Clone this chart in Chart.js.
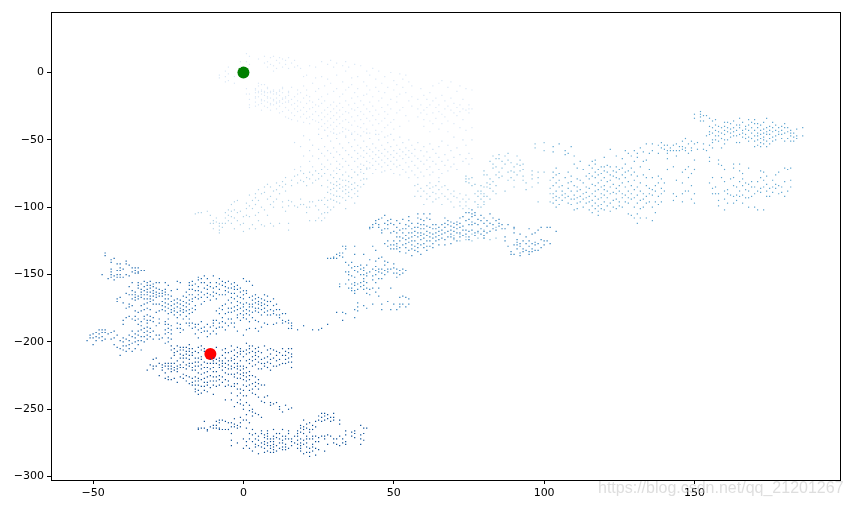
<!DOCTYPE html>
<html>
<head>
<meta charset="utf-8">
<style>
  body { margin: 0; background: #fff; }
  #wrap { position: relative; width: 852px; height: 507px; overflow: hidden; }
  #mark { position: absolute; left: 598px; top: 479px; font: 16px "Liberation Sans", sans-serif; color: rgba(195, 195, 195, 0.55); white-space: nowrap; }
</style>
<script src="https://cdn.jsdelivr.net/npm/chart.js@4/dist/chart.umd.min.js"></script>
</head>
<body>
<div id="wrap">
  <canvas id="walk" width="852" height="507"></canvas>
  <div id="mark">https://blog.csdn.net/qq_21201267</div>
</div>
<script>
// every row is one column of the walk: [x, y, y, y...], palest stage first
const stage1 = [
  [-8,-2,-4],[-6,1,-3,-7],[-5,4,-1,-6],[-3,-3,-8],[-1,8,4],[1,14,8,-12,-16],[2,12,6,-16,-20,-24,-26],
  [4,-12,-13,-15,-18,-19,-22,-25],[5,10,-8,-10,-14,-15,-18,-24],[6,-9,-13,-14,-16,-20,-21,-23,-28],[7,12,7,-9,-14,-15,-17,-21,-25],
  [8,8,4,-11,-12,-15,-18,-19,-22,-26],[9,11,6,-14,-15,-19,-23,-24,-28],[10,12,5,1,-13,-14,-16,-20,-21,-24],[11,9,3,-15,-16,-19,-22,-23,-27],
  [12,11,7,-13,-14,-17,-21,-22,-25,-30],[13,10,4,-11,-12,-15,-19,-20,-23,-29],[14,9,6,-18,-19,-22,-26,-33],[15,11,3,-14,-15,-17,-21,-22,-28,-34],
  [16,7,-11,-20,-24,-30,-35],[17,9,4,-18,-23,-27,-32],[18,5,-13,-16,-21,-25,-29,-36],[19,3,-15,-22,-28,-33],
  [20,-3,-10,-19,-26,-31,-37],[21,-2,-13,-17,-23,-29,-34],[22,5,-18,-21,-27,-33,-38],[23,-8,-22,-26,-31,-35],
  [24,4,-4,-14,-24,-29,-36],[25,-12,-20,-25,-32,-37,-42],[26,8,-3,-18,-23,-30,-35,-40],[27,-10,-21,-28,-33,-38,-43],
  [28,6,-5,-16,-26,-31,-36,-41],[29,9,-8,-24,-29,-34,-39,-44],[30,4,-14,-22,-27,-32,-37,-42],
  [31,7,-2,-12,-25,-30,-35,-40,-46],[32,-18,-23,-28,-33,-38,-45],[33,5,-7,-16,-26,-31,-36,-41],
  [34,8,1,-13,-21,-29,-35,-42,-47],[35,4,-11,-24,-30,-37,-43],[36,-4,-9,-19,-27,-33,-39,-45],[37,6,-15,-23,-28,-36,-44],
  [38,-3,-12,-18,-26,-32,-40,-46],[39,5,-21,-29,-35,-41],[40,-7,-17,-24,-31,-38,-44],[41,1,-10,-16,-27,-34,-42],
  [42,-2,-13,-22,-29,-36,-45],[43,3,-18,-25,-32,-39],[44,-5,-11,-28,-35,-43],[45,1,-14,-21,-31,-38,-46],
  [46,-8,-19,-26,-36,-44],[47,-3,-15,-29,-34,-41],[48,-11,-24,-31,-39,-47],[49,0,-20,-27,-37],[50,-6,-13,-35,-42],
  [51,-9,-18,-22,-30],[52,-1,-16,-28,-40],[53,-5,-11,-26],[54,-2,-15,-32],[55,-7,-21,-36],[56,-10,-18,-25],
  [58,-20,-27,-33],[59,-12,-24,-30],[60,-17,-28,-35,-40],[61,-20,-26,-31],[62,-15,-24,-36,-44],[63,-10,-21,-30,-38],
  [64,-19,-26,-34],[65,-8,-24,-29,-42],[66,-6,-17,-31,-38],[67,-21,-27,-33],[68,-11,-25,-36,-44],[69,-7,-19,-28],
  [70,-23,-30,-38],[71,-14,-26,-32],[72,-10,-24,-29,-41],[73,-20,-27,-35],[74,-12,-28,-43],[75,-24,-27,-30],[76,-13,-27,-41]
];
const stage2 = [
  [17,-52,-72],[19,-55,-70],[20,-47,-62],[22,-50,-58,-66],[23,-54,-62,-70],[25,-46,-57,-64],[26,-49,-60,-68],
  [27,-43,-55,-62,-70],[28,-47,-58,-65,-72],[29,-51,-60,-68],[30,-45,-56,-63,-73],[31,-49,-59,-66,-71],[32,-53,-61,-68],
  [33,-44,-56,-64,-70],[34,-48,-58,-66,-74],[35,-52,-61,-69],[36,-46,-55,-63,-72],[37,-50,-58,-66],[38,-54,-60,-64,-70],
  [39,-47,-56,-62,-68,-74],[40,-51,-58,-63,-69],[41,-45,-55,-60,-66,-72],[42,-49,-57,-62,-67,-71],[43,-53,-59,-64,-69,-75],
  [44,-46,-56,-61,-66,-72],[45,-50,-58,-63,-68],[46,-54,-60,-65,-70,-74],[47,-48,-57,-62,-67,-73],[48,-52,-59,-64,-69],
  [49,-46,-55,-61,-66,-72],[50,-50,-58,-63,-68,-75],[51,-54,-60,-65,-70],[52,-48,-57,-62,-69,-76],[53,-52,-59,-64,-72],
  [54,-56,-61,-67,-74],[55,-50,-58,-63,-70,-78],[56,-54,-60,-66,-73],[57,-57,-62,-69,-76],[58,-52,-64,-71,-78],
  [59,-58,-66,-74],[60,-55,-62,-68,-77],[61,-59,-65,-72],[62,-53,-63,-70,-76],[63,-57,-66,-74],[64,-60,-68],
  [65,-55,-63,-72,-78],[66,-51,-66,-75],[67,-61,-69],[68,-54,-65,-73],[69,-58,-70],[70,-48,-63,-68],[71,-56,-72],
  [72,-61],[73,-50,-66],[74,-54,-64],[75,-60,-68],[76,-50,-64]
];
const stage3 = [
  [-16,-105],[-15,-104],[-14,-104],[-12,-103],[-11,-106,-112],[-10,-110,-112,-116],[-9,-108,-111],[-8,-112,-114,-117,-119],
  [-7,-112,-115],[-6,-104,-108,-112],[-5,-102,-106,-110],[-4,-98,-103,-107,-112],[-3,-96,-102,-108,-116],[-2,-95,-104,-110],
  [-1,-103,-113],[0,-107,-112,-118],[1,-97,-101,-106],[2,-91,-99,-107,-116],[3,-95,-101,-113],[4,-90,-93,-98,-106,-116],
  [5,-87,-95,-104,-110],[6,-90,-100,-113],[7,-85,-89,-102,-114],[8,-83,-94,-106],[9,-85,-92,-98,-112],[10,-88,-96,-100,-114],
  [11,-82,-87,-94],[12,-84,-90,-112],[13,-81,-85,-96,-100],[14,-78,-83,-88,-103],[15,-95,-99,-112,-117],[16,-80,-84,-96],
  [17,-77,-99],[18,-76,-82,-100],[19,-73,-80,-94,-98],[20,-75,-81,-98],[21,-78,-84,-100,-104],[22,-74,-79,-96,-100,-110],
  [23,-76,-82,-96],[24,-73,-80,-99,-110],[25,-75,-79,-95,-102,-108],[26,-72,-77,-84,-95,-105,-110],[27,-75,-93,-98,-104,-108],
  [28,-80,-85,-89,-95,-100,-104],[29,-76,-82,-87,-90,-94,-102],[30,-78,-83,-86,-91,-95,-100],[31,-75,-81,-84,-88,-92,-96],
  [32,-72,-79,-83,-86,-92,-97],[33,-76,-80,-85,-88,-93],[34,-80,-84,-87,-90,-95,-101],[35,-77,-81,-85,-89,-92],
  [36,-78,-83,-87,-93],[37,-74,-82,-86,-90,-97],[38,-76,-84,-88,-92],[39,-72,-80,-85],[40,-75,-79,-83],[41,-71,-79],
  [57,-84,-92],[58,-83,-88],[59,-86,-92],[60,-88,-98],[61,-84,-90,-94],[62,-82,-86,-92],[63,-85,-89,-96],[64,-84,-90,-94],
  [65,-81,-87,-93],[66,-85,-90,-98],[67,-84,-92],[68,-87,-94],[69,-90,-96],[70,-88,-92,-100],[71,-93],[72,-90,-96,-99],
  [73,-94,-101],[74,-91,-96,-99],[75,-94,-101]
];
const stage4 = [
  [70,-121,-124],[72,-120,-125],[74,-77,-79,-81,-122,-124],[75,-79,-82],[76,-78,-84,-120,-125],[77,-83,-90,-96],
  [78,-88,-92,-98,-100,-119,-123],[79,-84,-88,-90,-94,-100],[80,-73,-76,-85,-90,-92,-96,-98,-117,-123],[81,-76,-82,-85,-92],
  [82,-66,-79,-83,-86,-94,-112,-118,-124],[83,-62,-68,-71,-81,-88],[84,-64,-70,-76,-84,-90,-115,-123],[85,-61,-64,-74,-78],
  [86,-66,-71,-77],[87,-62,-68,-88],[88,-60,-65,-74,-80],[89,-67,-73,-78],[90,-70,-74,-80,-85],[91,-62,-68,-76],
  [92,-65,-69,-73],[93,-68,-80,-72,-77],[94,-82,-87],[96,-73,-76,-79,-85],[97,-53,-56],[98,-74,-78,-82,-96],
  [100,-52,-58,-74],[102,-80,-86,-90,-96]
];
const stage5 = [
  [103,-55,-59,-74,-78,-84,-90,-93,-97],[104,-71,-76,-82,-88,-92,-95,-100],[105,-53,-75,-80,-85,-93,-98],
  [106,-84,-88,-91,-95],[107,-58,-61,-78,-90,-93],[108,-60,-74,-82,-86,-92,-97],[109,-55,-77,-81,-88,-94,-98],
  [110,-62,-68,-84,-91,-94,-102],[111,-71,-79,-85,-88,-93,-97,-101],[112,-66,-80,-87,-92,-96],[113,-72,-82,-90,-94,-100],
  [114,-77,-85,-89,-93,-97],[115,-69,-75,-79,-86,-92,-96,-102],[116,-66,-71,-77,-83,-90,-95,-99,-104],
  [117,-65,-68,-74,-78,-84,-88,-92,-97,-101],[118,-72,-76,-82,-87,-94,-99,-103,-106],[119,-70,-75,-80,-85,-90,-93,-98,-101],
  [120,-63,-70,-73,-78,-84,-87,-91,-96,-102],[121,-69,-74,-81,-88,-93,-99],[122,-57,-70,-76,-80,-85,-90,-97,-103],
  [123,-73,-77,-83,-89,-95,-100],[124,-62,-70,-74,-78,-86,-90,-94,-101],[125,-72,-79,-84,-88,-96,-99],
  [126,-64,-71,-76,-82,-90,-93,-100],[127,-58,-68,-74,-78,-85,-91,-96],[128,-60,-73,-81,-88,-93,-97,-105],
  [129,-62,-71,-76,-84,-90,-94,-106],[130,-58,-66,-74,-80,-87,-93,-100,-108],[131,-60,-63,-77,-85,-91,-97,-105,-112],
  [132,-56,-70,-82,-88,-95,-101,-108],[133,-59,-66,-76,-90,-94,-100],[134,-53,-65,-78,-84,-92,-97,-108],
  [135,-60,-72,-86,-90,-96],[136,-53,-58,-78,-87,-91,-100,-110],[137,-84,-88,-96,-104],[138,-54,-60,-77,-82,-92,-98],
  [139,-52,-56,-79,-86,-90,-96],[140,-54,-57,-82,-88],[141,-54,-58,-60,-64,-72],[142,-56,-58],[143,-54,-58,-70,-90,-95],
  [144,-53,-58,-62,-80,-92],[145,-55,-58],[146,-51,-55,-57,-74,-82,-90,-96],[147,-49,-56,-58,-72,-88],[148,-53,-60,-70,-78,-88],
  [149,-51,-56,-58,-75,-84,-94],[150,-31,-34,-53,-65,-72,-90,-97],[151,-52,-57],[152,-29,-31,-33,-36],[153,-32,-36,-53,-57],
  [154,-32,-47,-58],[155,-34,-40,-44,-46,-54,-63,-66,-82],[156,-36,-41,-45,-50,-52,-56,-78,-86,-90],[157,-35,-39,-43,-47,-50,-85,-90],
  [158,-40,-44,-47,-51,-65,-68,-90,-95,-99],[159,-41,-45,-49,-56,-69,-78],[160,-37,-40,-43,-46,-50,-53,-72,-81,-88,-94,-102],
  [161,-37,-41,-44,-50,-87,-90,-97],[162,-38,-42,-45,-48,-79,-91],[163,-36,-41,-44,-47,-68,-71,-78,-84,-92,-97],
  [164,-39,-43,-47,-52,-85,-91,-95],[165,-34,-39,-41,-46,-52,-68,-73,-81,-88,-92],[166,-37,-43,-45,-48,-75,-79,-84,-91,-97],
  [167,-40,-42,-46,-49,-82,-87,-93],[168,-35,-39,-43,-48,-51,-71,-83,-88,-93,-100],[169,-37,-41,-45,-49,-81,-85,-92],
  [170,-35,-38,-43,-47,-51,-55,-85,-90,-100],[171,-38,-41,-45,-47,-50,-54,-81,-88,-102],[172,-39,-43,-46,-49,-52,-55,-73,-78,-86,-89],
  [173,-37,-42,-45,-48,-50,-53,-74,-80,-85,-102],[174,-34,-41,-44,-46,-51,-55,-77,-83,-88,-92],[175,-40,-43,-46,-49,-53,-86,-92],
  [176,-37,-41,-44,-48,-51,-80,-85,-89],[177,-39,-43,-47,-50,-76,-83,-86],[178,-41,-44,-46,-74,-84,-90],[179,-40,-43,-46,-49,-85,-89],
  [180,-38,-41,-45,-51,-71,-81,-92],[181,-41,-44,-49,-72,-88],[182,-43,-45,-47,-51,-71,-80,-85],[183,-45,-48,-51],[184,-42,-47,-49],[186,-41,-47]
];
const stage6 = [
  [28,-138],[29,-138],[30,-137,-138],[31,-135,-138],[32,-134,-136,-157,-159],[33,-129,-134,-137,-178],[34,-129,-131,-141,-148,-157,-179],
  [35,-143,-148,-150,-154,-160],[36,-141,-145,-151,-157,-160,-162],[37,-129,-135,-144,-147,-152,-156,-158,-162,-164,-176,-182],
  [38,-144,-148,-157,-161,-171,-174,-177],[39,-143,-146,-150,-156,-159],[40,-135,-145,-147,-150,-153,-155,-158,-161,-173],
  [41,-143,-149,-151,-156,-160,-164,-175],[42,-139,-148,-161,-165,-115,-116],[43,-129,-146,-151,-154,-160,-172,-113,-115],
  [44,-132,-140,-144,-147,-150,-156,-163,-110,-112],[45,-138,-146,-148,-153,-160,-166,-109,-113,-115],
  [46,-137,-146,-149,-153,-172,-176,-108,-117,-119],[47,-140,-143,-147,-150,-106,-112,-116,-127],[48,-141,-146,-148,-170,-110,-113,-116,-125,-129],
  [49,-146,-160,-176,-109,-112,-119,-128,-131],[50,-142,-145,-149,-172,-113,-118,-125,-128,-131],[51,-146,-149,-152,-176,-110,-115,-119,-122,-127,-129,-131],
  [52,-147,-150,-167,-172,-174,-112,-117,-122,-125,-130,-133],[53,-146,-149,-166,-172,-109,-116,-119,-123,-128],[54,-147,-167,-174,-113,-116,-121,-124,-127,-130,-134],
  [55,-168,-172,-107,-110,-114,-119,-123,-126,-132],[56,-112,-116,-119,-122,-125,-128,-131,-136],[57,-115,-118,-121,-125,-129,-132],
  [58,-105,-108,-112,-115,-119,-122,-127,-130,-133],[59,-109,-113,-116,-119,-121,-124,-128,-135],[60,-105,-110,-113,-116,-120,-123,-127,-130],
  [61,-108,-114,-118,-121,-125,-129,-132],[62,-105,-109,-115,-119,-122,-125,-129],[63,-113,-116,-120,-123,-127,-130],[64,-113,-116,-119,-122,-125],
  [65,-115,-118,-121,-124,-128],[66,-113,-117,-120,-123],[67,-108,-112,-115,-119,-124,-128],[68,-110,-113,-118,-122],[69,-111,-114,-117,-120,-122,-127],
  [70,-112,-115,-118,-123],[71,-111,-113,-116,-119,-125],[72,-108,-112,-115,-119,-122],[73,-107,-114,-117,-121],[74,-104,-110,-117,-120],
  [75,-104,-109,-113,-118,-122,-124],[76,-102,-105,-107,-111,-113,-117],[77,-104,-106,-112,-119,-121],[78,-109,-113,-118],[79,-106,-110,-116,-120],
  [80,-108,-112,-118,-121,-123],[81,-110,-114,-119],[82,-105,-112,-118],[83,-108,-113,-116],[84,-110,-117],[85,-109,-112,-114],[86,-113,-116],
  [87,-116,-122,-125],[88,-113,-129],[89,-133,-135],[90,-115,-116,-119,-128,-135],[91,-124,-126,-128,-131],[92,-120,-127,-129,-134,-136],
  [93,-125,-131,-133],[94,-122,-127,-132],[95,-116,-125,-129,-133,-135],[96,-120,-127,-131,-133],[97,-119,-126,-128,-132],[98,-117,-127,-132],
  [99,-115,-124,-130],[100,-125,-128],[101,-115,-125],[102,-115,-127],[104,-118]
];
const stage7 = [
  [-52,-199],[-51,-195,-197],[-50,-194,-197,-202],[-49,-193,-196,-199],[-48,-191,-194,-197],[-47,-150,-191,-193,-196,-199],[-46,-134,-136,-191,-193,-198],
  [-45,-153,-194],[-44,-139,-141,-146,-148,-150,-152,-193,-198],[-43,-138,-151,-154,-192,-197,-202],[-42,-142,-147,-150,-152,-168,-170,-195,-204],
  [-41,-142,-145,-147,-150,-152,-167,-199,-205,-210],[-40,-146,-152,-171,-184,-187,-197,-200,-203,-206],[-39,-140,-142,-150,-164,-175,-182,-198,-203,-207],
  [-38,-143,-151,-159,-165,-172,-174,-181,-195,-199,-202,-205],[-37,-145,-148,-156,-162,-165,-168,-173,-183,-192,-196,-201,-207],
  [-36,-145,-147,-149,-163,-165,-167,-169,-177,-181,-184,-194,-197,-200,-205],[-35,-145,-148,-149,-156,-158,-160,-166,-168,-178,-183,-187,-192,-195,-199,-202],
  [-34,-147,-157,-161,-163,-165,-167,-173,-177,-185,-188,-191,-196,-199,-206],[-33,-147,-155,-159,-162,-165,-168,-172,-176,-181,-183,-190,-193,-196,-200],
  [-32,-156,-158,-161,-163,-165,-168,-171,-175,-180,-184,-186,-189,-192,-195,-198],[-31,-155,-158,-160,-163,-166,-168,-170,-176,-181,-184,-190,-193,-196],
  [-30,-157,-159,-162,-164,-166,-169,-172,-182,-185,-192,-198],[-29,-156,-160,-163,-165,-167,-172,-178,-188,-195],[-28,-156,-161,-164,-166,-172,-177,-183,-186,-195,-198],
  [-27,-162,-164,-166,-170,-173,-176,-197],[-26,-156,-161,-163,-165,-168,-171,-174,-177,-185,-187,-191,-194,-201],[-25,-158,-165,-168,-172,-175,-179,-183,-187,-190,-193,-197,-200],
  [-24,-162,-166,-170,-173,-176,-178,-188,-191,-194,-198],[-23,-169,-172,-175,-177,-180],[-22,-155,-161,-168,-171,-174,-178,-182,-186,-190],
  [-21,-156,-169,-172,-175,-177,-180,-187,-190,-193],[-20,-166,-170,-173,-176,-178,-183,-191],[-19,-163,-167,-171,-174,-177,-181,-186],
  [-18,-156,-158,-161,-165,-169,-172,-176,-179,-183,-186,-188],[-17,-155,-158,-161,-165,-168,-170,-175,-178,-186,-190],[-16,-157,-162,-167,-173,-176,-187,-189,-194],
  [-15,-152,-154,-159,-162,-165,-168,-187,-191,-197],[-14,-153,-156,-163,-167,-172,-185,-190,-193],[-13,-151,-156,-160,-165,-170,-189,-192],
  [-12,-153,-158,-161,-164,-167,-187,-192,-196],[-11,-156,-159,-165,-169,-189,-194],[-10,-151,-160,-163,-166,-184,-186,-188,-192],
  [-9,-156,-159,-164,-168,-177,-184,-190,-194],[-8,-153,-157,-161,-165,-175,-179,-186,-189],[-7,-155,-158,-165,-173,-176,-182,-185,-189],
  [-6,-156,-159,-162,-165,-172,-179,-186,-191],[-5,-155,-160,-163,-169,-175,-178,-183,-188],[-4,-157,-160,-164,-167,-171,-175,-178,-183,-186],
  [-3,-156,-159,-161,-164,-168,-174,-177,-186,-189],[-2,-158,-161,-166,-170,-173,-176,-180,-182,-192],[-1,-160,-163,-167,-171,-175,-179,-184],
  [0,-153,-162,-165,-168,-172,-174,-177,-180,-182,-195],[1,-155,-162,-164,-171,-176,-179,-183,-191],[2,-155,-167,-172,-174,-177,-180,-185,-190],
  [3,-158,-166,-169,-172,-174,-178,-182],[4,-165,-168,-171,-175,-177,-184,-190],[5,-167,-170,-172,-175,-178,-185,-192],[6,-168,-171,-173,-176,-180,-189],
  [7,-165,-169,-172,-175,-178,-186],[8,-166,-170,-173,-177,-180,-187],[9,-170,-176,-180],[10,-168,-173,-177,-179,-187],[11,-172,-176,-180,-186],
  [12,-176,-180,-182],[13,-179,-184,-186],[14,-179,-185],[15,-184,-186,-190],[16,-186,-188,-190],[18,-191],[20,-188],[23,-191],[25,-191],[26,-190],[28,-187],[31,-178],[33,-184]
];
const stage8 = [
  [-32,-221],[-31,-217],[-30,-213,-218,-220],[-29,-212,-218],[-28,-216,-225],[-27,-217,-219,-221],[-26,-216,-218,-223,-227],[-25,-216,-218,-220,-226,-228],
  [-24,-203,-206,-212,-216,-218,-220,-222,-228],[-23,-205,-208,-210,-216,-219,-221,-227],[-22,-203,-207,-214,-218,-220,-222,-230],[-21,-204,-206,-209,-212,-217,-219,-226],
  [-20,-204,-206,-210,-212,-215,-219,-224,-227],[-19,-204,-207,-209,-212,-217,-220,-225,-229],[-18,-202,-205,-207,-210,-213,-216,-218,-226,-231],
  [-17,-205,-208,-210,-216,-219,-221,-227,-230,-232],[-16,-207,-212,-215,-218,-221,-226,-229,-232,-235,-237],[-15,-204,-208,-212,-215,-218,-223,-227,-229,-232,-236,-239,-264,-265],
  [-14,-203,-206,-211,-213,-217,-220,-224,-228,-233,-238,-264],[-13,-205,-207,-215,-219,-223,-227,-230,-233,-236,-259,-264],[-12,-216,-219,-222,-226,-230,-232,-237,-265,-266],
  [-11,-213,-216,-220,-225,-229,-234,-263],[-10,-212,-214,-216,-219,-222,-226,-229,-232,-239,-262,-264],[-9,-204,-213,-216,-222,-226,-229,-233,-259,-262,-264],
  [-8,-212,-214,-217,-219,-225,-228,-232,-258,-260,-264,-265],[-7,-206,-210,-214,-216,-218,-221,-226,-230,-258,-265],[-6,-205,-208,-212,-216,-219,-223,-228,-233,-243,-259,-265],
  [-5,-208,-214,-217,-220,-224,-229,-232,-260,-265],[-4,-203,-207,-212,-214,-218,-220,-224,-233,-238,-243,-260,-263,-268,-273,-277],
  [-3,-206,-210,-213,-216,-219,-224,-226,-231,-233,-248,-257,-261,-263],[-2,-204,-208,-211,-216,-218,-220,-223,-227,-231,-235,-240,-245,-262,-264,-275],
  [-1,-205,-207,-209,-214,-218,-221,-224,-227,-235,-238,-243,-246,-256,-260,-263],[0,-207,-211,-218,-220,-223,-225,-228,-232,-236,-240,-247,-250,-258,-272,-279],
  [1,-201,-206,-209,-214,-219,-223,-226,-229,-233,-240,-245,-254,-258,-264,-274,-277],[2,-203,-205,-208,-213,-216,-222,-225,-228,-232,-236,-247,-251,-260,-268,-272,-279],
  [3,-203,-207,-211,-214,-218,-225,-231,-235,-238,-250,-252,-255,-265,-269,-274,-281],[4,-205,-208,-210,-213,-217,-226,-230,-233,-239,-253,-268,-272,-276,-278],
  [5,-204,-207,-211,-215,-220,-228,-231,-235,-241,-254,-270,-273,-277,-283],[6,-208,-213,-216,-220,-232,-244,-256,-266,-268,-275,-278],
  [7,-203,-212,-216,-218,-232,-241,-245,-269,-271,-274,-276,-279,-282],[8,-206,-211,-215,-219,-240,-266,-268,-270,-272,-275,-277,-281],
  [9,-205,-209,-213,-216,-221,-245,-247,-272,-274,-277,-279,-282],[10,-206,-212,-218,-246,-265,-270,-272,-274,-276,-278,-280,-282],
  [11,-207,-210,-214,-218,-245,-268,-271,-277,-281],[12,-208,-213,-217,-248,-250,-268,-272,-275,-279],[13,-205,-210,-216,-252,-265,-270,-273,-275,-278,-280],
  [14,-207,-210,-213,-216,-247,-270,-272,-276,-278,-280],[15,-205,-208,-212,-215,-250,-266,-268,-272,-279],[16,-205,-209,-211,-215,-219,-249,-272,-274,-277],
  [17,-270,-275],[18,-266,-268,-270,-273,-276,-279],[19,-262,-264,-267,-272,-275,-277,-279,-281],[20,-258,-263,-265,-268,-273,-276,-283],
  [21,-261,-264,-270,-272,-275,-278,-282],[22,-260,-265,-267,-272,-279,-282,-285],[23,-262,-265,-270,-272,-276,-278,-281],[24,-259,-263,-270,-274,-279,-284],
  [25,-255,-258,-271,-274,-280],[26,-253,-256,-259,-270],[27,-253,-255,-258,-270,-272,-281],[28,-254,-257,-269,-276],[29,-256,-259,-270],[30,-253,-256,-258,-272,-275],
  [31,-272,-276],[32,-258,-261,-270,-277],[33,-272,-275],[34,-266,-269,-274,-276],[36,-267,-270],[37,-266,-268,-271],[39,-262,-269,-272,-276],[40,-264,-268,-273],[41,-264]
];

const stages = [stage1, stage2, stage3, stage4, stage5, stage6, stage7, stage8];
const stageColors = ['#dbe8f6', '#cbdff1', '#b0d2e7', '#8cc0dd', '#5fa6d1', '#3080bd', '#1764ab', '#084d96'];
const startPoint = [{ x: 0, y: 0 }];
const endPoint = [{ x: -11, y: -209 }];
const xTicks = [-50, 0, 50, 100, 150];
const yTicks = [0, -50, -100, -150, -200, -250, -300];

const toPoints = cols => cols.flatMap(([x, ...ys]) => ys.map(y => ({ x, y })));
const minusLabel = v => String(v).replace('-', '\u2212');

const frame = {
    id: 'frame',
    afterDatasetsDraw(chart) {
        const { ctx, chartArea: a } = chart;
        ctx.save();
        ctx.strokeStyle = '#000';
        ctx.lineWidth = 1;
        ctx.strokeRect(a.left + 0.5, a.top + 0.5, a.right - a.left, a.bottom - a.top);
        ctx.restore();
    }
};

function axis(ticksList, min, max, extra) {
    return {
        type: 'linear',
        min: min,
        max: max,
        border: { display: false },
        grid: { drawOnChartArea: false, drawTicks: true, tickLength: 4, tickColor: '#000' },
        afterBuildTicks: scale => { scale.ticks = ticksList.map(value => ({ value })); },
        ticks: {
            color: '#000',
            padding: 3,
            maxRotation: 0,
            autoSkip: false,
            font: { family: '"DejaVu Sans"', size: 11 },
            callback: minusLabel
        },
        ...extra
    };
}

new Chart(document.getElementById('walk').getContext('2d'), {
    type: 'scatter',
    data: {
        datasets: [
            ...stages.map((cols, i) => ({
                data: toPoints(cols),
                pointStyle: 'rect',
                pointRadius: 0.85,
                pointBorderWidth: 0,
                backgroundColor: stageColors[i]
            })),
            { data: startPoint, pointRadius: 6, pointBorderWidth: 0, backgroundColor: '#008000' },
            { data: endPoint, pointRadius: 6, pointBorderWidth: 0, backgroundColor: '#ff0000' }
        ]
    },
    options: {
        responsive: false,
        animation: false,
        events: [],
        layout: { padding: { top: 12, right: 12, left: 0, bottom: 0 } },
        plugins: { legend: { display: false }, tooltip: { enabled: false } },
        scales: {
            x: axis(xTicks, -64, 198.4, { afterFit: s => { s.height = 27; } }),
            y: axis(yTicks, -302.5, 44.9, { afterFit: s => { s.width = 51; } })
        }
    },
    plugins: [frame]
});
</script>
</body>
</html>
